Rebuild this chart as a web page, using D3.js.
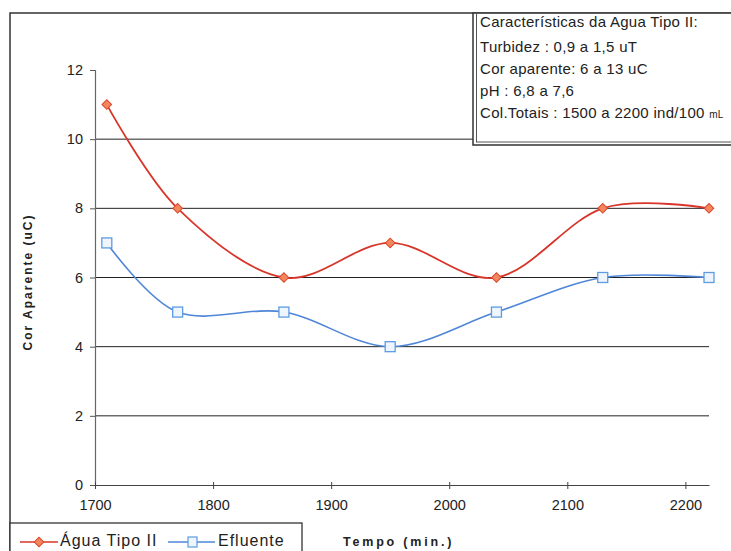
<!DOCTYPE html>
<html>
<head>
<meta charset="utf-8">
<script src="https://cdn.jsdelivr.net/npm/d3@7"></script>
<style>
  html, body { margin: 0; padding: 0; background: #fff; }
  svg { display: block; font-family: "Liberation Sans", Arial, sans-serif; }
</style>
</head>
<body>
<svg id="chart" width="731" height="551"></svg>
<script>
// Sampling times (minutes) and apparent colour readings (uC)
const tempos = [1710, 1770, 1860, 1950, 2040, 2130, 2220];
const aguaTipoII = [11, 8, 6, 7, 6, 8, 8];
const efluente = [7, 5, 5, 4, 5, 6, 6];

const xTicks = [1700, 1800, 1900, 2000, 2100, 2200];
const yTicks = [0, 2, 4, 6, 8, 10, 12];
const gridValues = [2, 4, 6, 8, 10];

const infoLines = [
  "Características da Agua Tipo II:",
  "Turbidez : 0,9 a 1,5 uT",
  "Cor aparente: 6 a 13 uC",
  "pH : 6,8 a 7,6",
  "Col.Totais : 1500 a 2200 ind/100 "
];
const infoUnit = "mL";

const seriesNames = ["Água Tipo II", "Efluente"];

const svg = d3.select("#chart");

const x = d3.scaleLinear().domain([1700, 2220]).range([95, 709]);
const y = d3.scaleLinear().domain([0, 12]).range([485, 70]);

// Outer chart frame (continues past the right and bottom edges)
svg.append("rect")
  .attr("x", 10).attr("y", 13).attr("width", 800).attr("height", 600)
  .attr("fill", "none").attr("stroke", "#333").attr("stroke-width", 1.5);

// Horizontal gridlines
svg.append("g").selectAll("line").data(gridValues).join("line")
  .attr("x1", x(1700)).attr("x2", x(2220))
  .attr("y1", d => y(d)).attr("y2", d => y(d))
  .attr("stroke", "#222").attr("stroke-width", 1);

// Y axis
const yAxis = svg.append("g")
  .attr("transform", `translate(${x(1700)},0)`)
  .call(d3.axisLeft(y).tickValues(yTicks).tickSize(5).tickPadding(7).tickFormat(d3.format("d")));
yAxis.select(".domain").attr("stroke", "#666").attr("stroke-width", 1.2);
yAxis.selectAll(".tick line").attr("stroke", "#555");
yAxis.selectAll("text").attr("font-size", 14.5).attr("fill", "#222")
  .attr("font-family", "Liberation Sans, Arial, sans-serif");

// X axis
const xAxis = svg.append("g")
  .attr("transform", `translate(0,${y(0)})`)
  .call(d3.axisBottom(x).tickValues(xTicks).tickSizeInner(4).tickSizeOuter(0).tickPadding(11).tickFormat(d3.format("d")));
xAxis.select(".domain").attr("stroke", "#444").attr("stroke-width", 1.2);
xAxis.selectAll(".tick line").attr("stroke", "#444").attr("y1", -3);
xAxis.selectAll("text").attr("font-size", 14.5).attr("fill", "#222")
  .attr("font-family", "Liberation Sans, Arial, sans-serif");

// Smoothed series lines
const line = d3.line().curve(d3.curveCatmullRom.alpha(0));
const redPts = tempos.map((t, i) => [x(t), y(aguaTipoII[i])]);
const bluePts = tempos.map((t, i) => [x(t), y(efluente[i])]);

svg.append("path").attr("d", line(bluePts))
  .attr("fill", "none").attr("stroke", "#4f86d8").attr("stroke-width", 1.6);
svg.append("path").attr("d", line(redPts))
  .attr("fill", "none").attr("stroke", "#d8352a").attr("stroke-width", 1.8);

// Markers: rotated squares for the red series, open squares for the blue one
const diamond = d3.symbol().type(d3.symbolSquare).size(46);
svg.append("g").selectAll("path").data(redPts).join("path")
  .attr("transform", d => `translate(${d[0]},${d[1]}) rotate(45)`)
  .attr("d", diamond)
  .attr("fill", "#f3865c").attr("stroke", "#d9472c").attr("stroke-width", 1);

svg.append("g").selectAll("rect").data(bluePts).join("rect")
  .attr("x", d => d[0] - 5).attr("y", d => d[1] - 5)
  .attr("width", 10).attr("height", 10)
  .attr("fill", "#eef5fd").attr("stroke", "#5d9ce2").attr("stroke-width", 1.3);

// Axis titles
svg.append("text")
  .attr("transform", "translate(32,282) rotate(-90)")
  .attr("text-anchor", "middle")
  .attr("font-size", 12).attr("font-weight", "bold")
  .attr("letter-spacing", 2).attr("fill", "#222")
  .text("Cor Aparente (uC)");

svg.append("text")
  .attr("x", 343).attr("y", 546)
  .attr("font-size", 12.5).attr("font-weight", "bold")
  .attr("letter-spacing", 2.8).attr("fill", "#222")
  .text("Tempo (min.)");

// Water characteristics box
const info = svg.append("g");
info.append("rect")
  .attr("x", 473).attr("y", 13).attr("width", 300).attr("height", 132)
  .attr("fill", "#fff").attr("stroke", "#333").attr("stroke-width", 1.5);
info.append("rect")
  .attr("x", 476.5).attr("y", 13).attr("width", 300).attr("height", 129)
  .attr("fill", "none").attr("stroke", "#555").attr("stroke-width", 1);
const infoBaselines = [27, 52, 74, 96, 118];
infoLines.forEach((txt, i) => {
  const t = info.append("text")
    .attr("x", 480).attr("y", infoBaselines[i])
    .attr("font-size", 15).attr("letter-spacing", 0.3).attr("fill", "#222")
    .text(txt);
  if (i === infoLines.length - 1) {
    t.append("tspan").attr("font-size", 10).text(infoUnit);
  }
});

// Legend
const legend = svg.append("g");
legend.append("rect")
  .attr("x", 10).attr("y", 523).attr("width", 292).attr("height", 60)
  .attr("fill", "#fff").attr("stroke", "#333").attr("stroke-width", 1.3);
legend.append("line")
  .attr("x1", 20).attr("x2", 58).attr("y1", 542).attr("y2", 542)
  .attr("stroke", "#d8352a").attr("stroke-width", 1.5);
legend.append("path")
  .attr("transform", "translate(39,542) rotate(45)")
  .attr("d", diamond)
  .attr("fill", "#f3865c").attr("stroke", "#d9472c");
legend.append("text")
  .attr("x", 60).attr("y", 546).attr("font-size", 16).attr("letter-spacing", 1).attr("fill", "#222")
  .text(seriesNames[0]);
legend.append("line")
  .attr("x1", 168).attr("x2", 215).attr("y1", 542).attr("y2", 542)
  .attr("stroke", "#4f86d8").attr("stroke-width", 1.5);
legend.append("rect")
  .attr("x", 188).attr("y", 537).attr("width", 9).attr("height", 10)
  .attr("fill", "#eef5fd").attr("stroke", "#5d9ce2").attr("stroke-width", 1.2);
legend.append("text")
  .attr("x", 218).attr("y", 546).attr("font-size", 16).attr("letter-spacing", 1).attr("fill", "#222")
  .text(seriesNames[1]);
</script>
</body>
</html>
